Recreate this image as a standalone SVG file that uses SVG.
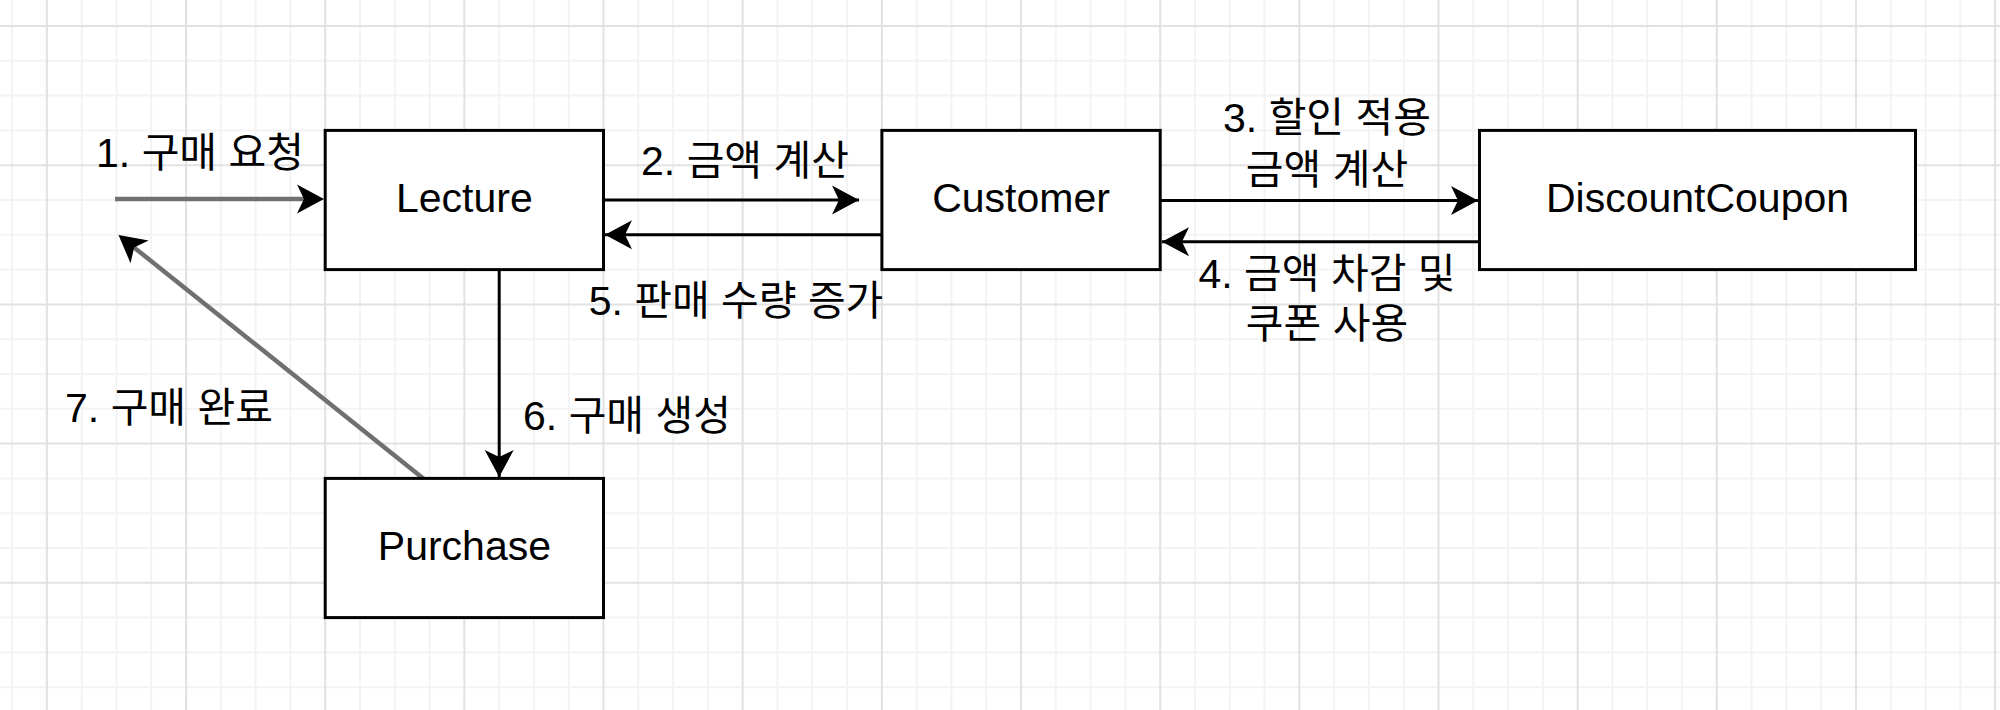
<svg xmlns="http://www.w3.org/2000/svg" width="2000" height="710" viewBox="0 0 2000 710">
<style>
.minor{stroke:#f3f3f3;stroke-width:2;fill:none}
.major{stroke:#e2e2e2;stroke-width:2;fill:none}
.box{fill:#ffffff;stroke:#000000;stroke-width:3}
.lbl{font-family:"Liberation Sans","Noto Sans CJK KR",sans-serif;font-size:41px;fill:#000000;text-anchor:middle}
.edge{fill:none;stroke:#000000;stroke-width:3}
.grey{fill:none;stroke:#707070;stroke-width:4.5}
.tip{fill:none;stroke:#000000;stroke-width:0.1}
</style>
<defs>
<marker id="arr" markerUnits="userSpaceOnUse" viewBox="-28 -16 30 32" markerWidth="30" markerHeight="32" refX="0" refY="0" orient="auto">
<path d="M0,0 L-27,-14.5 L-20,0 L-27,14.5 Z" fill="#000000"/>
</marker>
</defs>
<g id="grid">
<path class="minor" d="M12.1,0V710M81.7,0V710M116.5,0V710M151.3,0V710M220.8,0V710M255.6,0V710M290.4,0V710M360,0V710M394.8,0V710M429.6,0V710M499.2,0V710M533.9,0V710M568.7,0V710M638.3,0V710M673.1,0V710M707.9,0V710M777.5,0V710M812.3,0V710M847.1,0V710M916.6,0V710M951.4,0V710M986.2,0V710M1055.8,0V710M1090.6,0V710M1125.4,0V710M1195,0V710M1229.8,0V710M1264.5,0V710M1334.1,0V710M1368.9,0V710M1403.7,0V710M1473.3,0V710M1508.1,0V710M1542.9,0V710M1612.4,0V710M1647.2,0V710M1682,0V710M1751.6,0V710M1786.4,0V710M1821.2,0V710M1890.8,0V710M1925.6,0V710M1960.3,0V710M0,60.8H2000M0,95.6H2000M0,130.4H2000M0,200H2000M0,234.8H2000M0,269.6H2000M0,339.2H2000M0,374H2000M0,408.8H2000M0,478.4H2000M0,513.2H2000M0,548H2000M0,617.6H2000M0,652.4H2000M0,687.2H2000"/>
<path class="major" d="M46.9,0V710M186.1,0V710M325.2,0V710M464.4,0V710M603.5,0V710M742.7,0V710M881.9,0V710M1021,0V710M1160.2,0V710M1299.3,0V710M1438.5,0V710M1577.7,0V710M1716.8,0V710M1856,0V710M1995.1,0V710M0,26H2000M0,165.2H2000M0,304.4H2000M0,443.6H2000M0,582.8H2000"/>
</g>
<g id="connectors">
<g id="e1"><line class="grey" x1="115" y1="199" x2="304" y2="199"/><line class="tip" x1="300" y1="199" x2="324" y2="199" marker-end="url(#arr)"/></g>
<g id="e2"><line class="edge" x1="603.5" y1="200" x2="859" y2="200" marker-end="url(#arr)"/></g>
<g id="e5"><line class="edge" x1="881.9" y1="234.8" x2="605" y2="234.8" marker-end="url(#arr)"/></g>
<g id="e3"><line class="edge" x1="1160.2" y1="200.5" x2="1478" y2="200.5" marker-end="url(#arr)"/></g>
<g id="e4"><line class="edge" x1="1479.5" y1="241.7" x2="1162" y2="241.7" marker-end="url(#arr)"/></g>
<g id="e6"><line class="edge" x1="499.2" y1="269.6" x2="499.2" y2="477" marker-end="url(#arr)"/></g>
<g id="e7"><line class="grey" x1="423.3" y1="478.4" x2="134" y2="247.4"/><line class="tip" x1="140" y1="252.2" x2="118.5" y2="235" marker-end="url(#arr)"/></g>
<text class="lbl" x="200" y="167">1. 구매 요청</text>
<text class="lbl" x="745" y="175">2. 금액 계산</text>
<text class="lbl" x="1327" y="132">3. 할인 적용</text>
<text class="lbl" x="1327" y="184">금액 계산</text>
<text class="lbl" x="1327" y="288">4. 금액 차감 및</text>
<text class="lbl" x="1327" y="338">쿠폰 사용</text>
<text class="lbl" x="736" y="315">5. 판매 수량 증가</text>
<text class="lbl" x="627" y="430">6. 구매 생성</text>
<text class="lbl" x="169" y="422">7. 구매 완료</text>
</g>
<g id="lecture"><rect class="box" x="325.2" y="130.4" width="278.3" height="139.2"/><text class="lbl" x="464.4" y="212">Lecture</text></g>
<g id="customer"><rect class="box" x="881.9" y="130.4" width="278.3" height="139.2"/><text class="lbl" x="1021" y="212">Customer</text></g>
<g id="discountcoupon"><rect class="box" x="1479.5" y="130.4" width="436" height="139.2"/><text class="lbl" x="1697.5" y="212">DiscountCoupon</text></g>
<g id="purchase"><rect class="box" x="325.2" y="478.4" width="278.3" height="139.2"/><text class="lbl" x="464.4" y="560">Purchase</text></g>
</svg>
